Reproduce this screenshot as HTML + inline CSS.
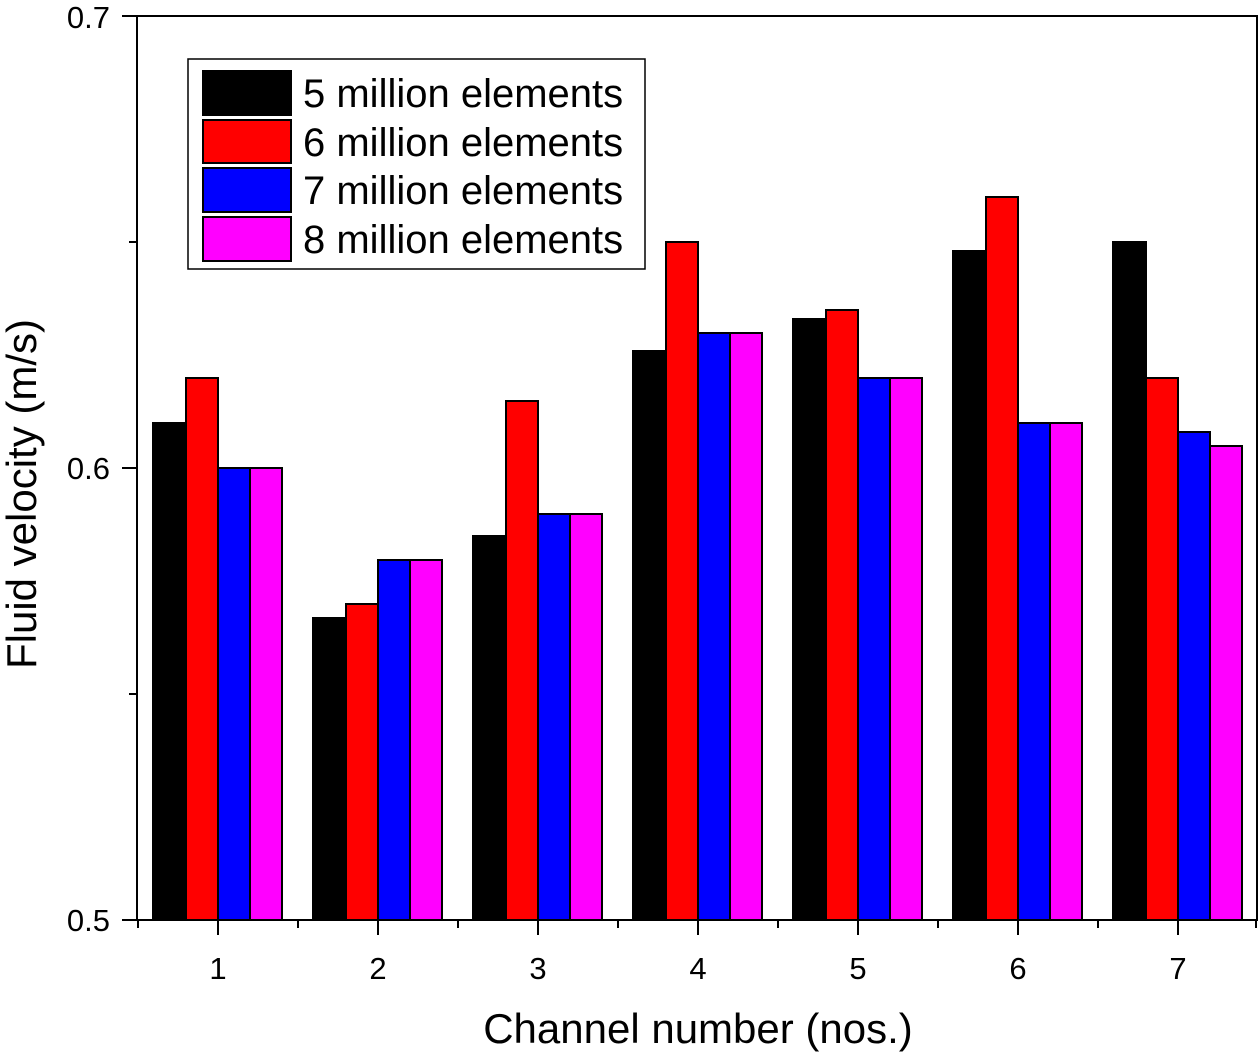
<!DOCTYPE html>
<html><head><meta charset="utf-8"><style>
html,body{margin:0;padding:0;background:#fff;}
svg{display:block;}
text{font-family:"Liberation Sans",Arial,sans-serif;fill:#000;}
</style></head><body>
<svg width="1260" height="1053" viewBox="0 0 1260 1053" xmlns="http://www.w3.org/2000/svg">
<g stroke="#000" stroke-width="2">
<rect x="153" y="423" width="33" height="497" fill="#000"/>
<rect x="186" y="378" width="32" height="542" fill="#f00"/>
<rect x="218" y="468" width="32" height="452" fill="#00f"/>
<rect x="250" y="468" width="32" height="452" fill="#f0f"/>
<rect x="313" y="618" width="33" height="302" fill="#000"/>
<rect x="346" y="604" width="32" height="316" fill="#f00"/>
<rect x="378" y="560" width="32" height="360" fill="#00f"/>
<rect x="410" y="560" width="32" height="360" fill="#f0f"/>
<rect x="473" y="536" width="33" height="384" fill="#000"/>
<rect x="506" y="401" width="32" height="519" fill="#f00"/>
<rect x="538" y="514" width="32" height="406" fill="#00f"/>
<rect x="570" y="514" width="32" height="406" fill="#f0f"/>
<rect x="633" y="351" width="33" height="569" fill="#000"/>
<rect x="666" y="242" width="32" height="678" fill="#f00"/>
<rect x="698" y="333" width="32" height="587" fill="#00f"/>
<rect x="730" y="333" width="32" height="587" fill="#f0f"/>
<rect x="793" y="319" width="33" height="601" fill="#000"/>
<rect x="826" y="310" width="32" height="610" fill="#f00"/>
<rect x="858" y="378" width="32" height="542" fill="#00f"/>
<rect x="890" y="378" width="32" height="542" fill="#f0f"/>
<rect x="953" y="251" width="33" height="669" fill="#000"/>
<rect x="986" y="197" width="32" height="723" fill="#f00"/>
<rect x="1018" y="423" width="32" height="497" fill="#00f"/>
<rect x="1050" y="423" width="32" height="497" fill="#f0f"/>
<rect x="1113" y="242" width="33" height="678" fill="#000"/>
<rect x="1146" y="378" width="32" height="542" fill="#f00"/>
<rect x="1178" y="432" width="32" height="488" fill="#00f"/>
<rect x="1210" y="446" width="32" height="474" fill="#f0f"/>
</g>
<rect x="137" y="16" width="1120" height="904" fill="none" stroke="#000" stroke-width="2"/>
<g stroke="#000" stroke-width="2">
<line x1="122" y1="16" x2="137" y2="16"/>
<line x1="122" y1="468" x2="137" y2="468"/>
<line x1="122" y1="920" x2="137" y2="920"/>
<line x1="129" y1="242" x2="137" y2="242"/>
<line x1="129" y1="694" x2="137" y2="694"/>
<line x1="218" y1="920" x2="218" y2="935"/>
<line x1="378" y1="920" x2="378" y2="935"/>
<line x1="538" y1="920" x2="538" y2="935"/>
<line x1="698" y1="920" x2="698" y2="935"/>
<line x1="858" y1="920" x2="858" y2="935"/>
<line x1="1018" y1="920" x2="1018" y2="935"/>
<line x1="1178" y1="920" x2="1178" y2="935"/>
<line x1="138" y1="920" x2="138" y2="928"/>
<line x1="298" y1="920" x2="298" y2="928"/>
<line x1="458" y1="920" x2="458" y2="928"/>
<line x1="618" y1="920" x2="618" y2="928"/>
<line x1="778" y1="920" x2="778" y2="928"/>
<line x1="938" y1="920" x2="938" y2="928"/>
<line x1="1098" y1="920" x2="1098" y2="928"/>
<line x1="1256" y1="920" x2="1256" y2="928"/>
</g>
<g font-size="31" text-anchor="end">
<text x="110" y="28">0.7</text>
<text x="110" y="479">0.6</text>
<text x="110" y="931">0.5</text>
</g>
<g font-size="31" text-anchor="middle">
<text x="218" y="979">1</text><text x="378" y="979">2</text><text x="538" y="979">3</text>
<text x="698" y="979">4</text><text x="858" y="979">5</text><text x="1018" y="979">6</text>
<text x="1178" y="979">7</text>
</g>
<text x="698" y="1043" font-size="42" text-anchor="middle">Channel number (nos.)</text>
<text transform="translate(36,494) rotate(-90)" font-size="42" text-anchor="middle">Fluid velocity (m/s)</text>
<rect x="188" y="59" width="457" height="210" fill="#fff" stroke="#000" stroke-width="1.5"/>
<g stroke="#000" stroke-width="2">
<rect x="203" y="71" width="88" height="44" fill="#000"/>
<rect x="203" y="120" width="88" height="43" fill="#f00"/>
<rect x="203" y="168" width="88" height="44" fill="#00f"/>
<rect x="203" y="217" width="88" height="44" fill="#f0f"/>
</g>
<g font-size="40">
<text x="303" y="107">5 million elements</text>
<text x="303" y="156">6 million elements</text>
<text x="303" y="204">7 million elements</text>
<text x="303" y="253">8 million elements</text>
</g>
</svg>
</body></html>
